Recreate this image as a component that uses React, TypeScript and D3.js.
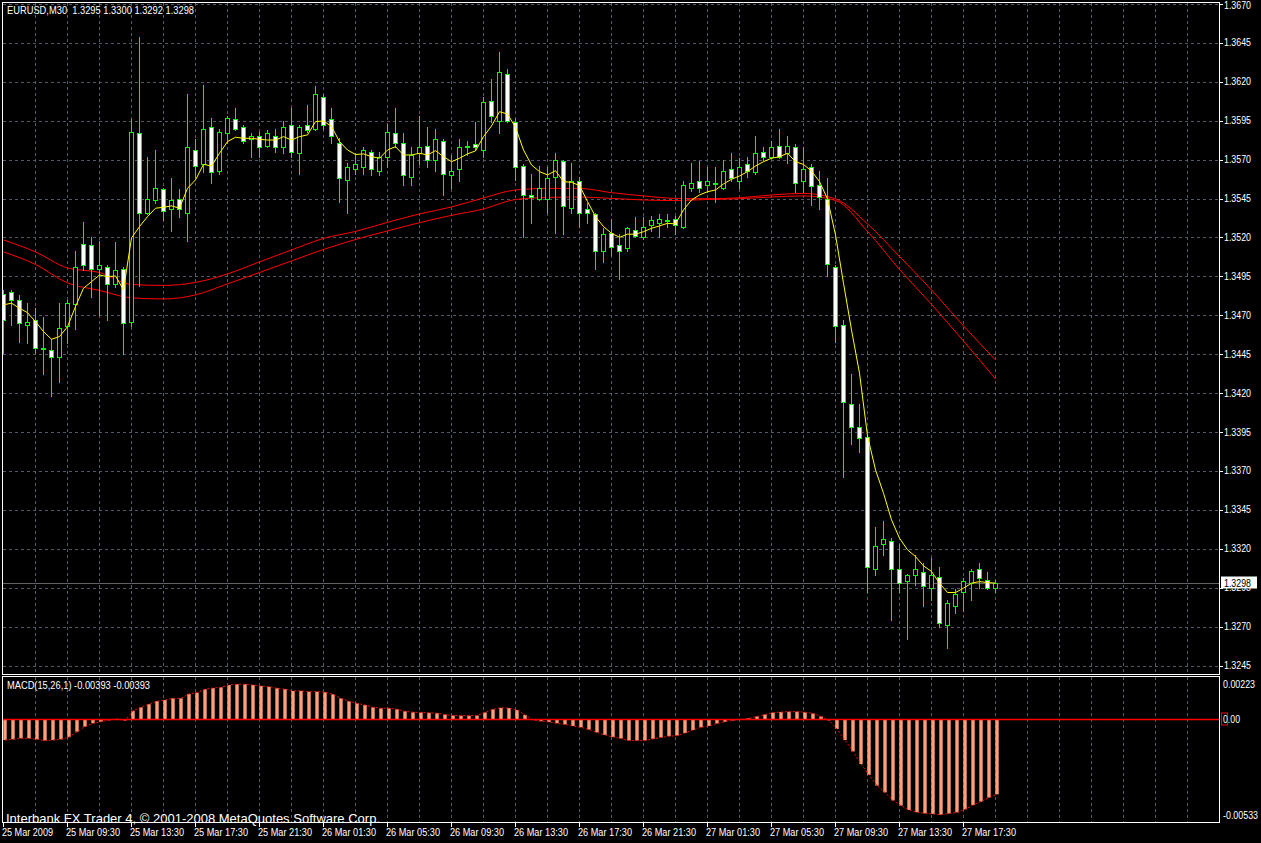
import React from 'react';
import * as d3 from 'd3';

const W = 1261;
const H = 843;

const headerText = 'EURUSD,M30  1.3295 1.3300 1.3292 1.3298';
const macdText = 'MACD(15,26,1) -0.00393 -0.00393';
const copyrightText = 'Interbank FX Trader 4, \u00A9 2001-2008 MetaQuotes Software Corp.';

const opens = [
  1.3484, 1.3485, 1.3480, 1.3464, 1.3467, 1.3449, 1.3448, 1.3443, 1.3463, 1.3477,
  1.3516, 1.3515, 1.3500, 1.3501, 1.3490, 1.3500, 1.3466, 1.3587, 1.3536, 1.3544,
  1.3551, 1.3538, 1.3545, 1.3536, 1.3576, 1.3567, 1.3591, 1.3563, 1.3587, 1.3596,
  1.3591, 1.3583, 1.3585, 1.3579, 1.3585, 1.3578, 1.3592, 1.3574, 1.3592, 1.3590,
  1.3610, 1.3596, 1.3581, 1.3557, 1.3564, 1.3565, 1.3575, 1.3563, 1.3572, 1.3587,
  1.3581, 1.3559, 1.3574, 1.3579, 1.3570, 1.3582, 1.3560, 1.3564, 1.3578, 1.3580,
  1.3576, 1.3608, 1.3595, 1.3625, 1.3594, 1.3566, 1.3547, 1.3545, 1.3545, 1.3559,
  1.3569, 1.3539, 1.3556, 1.3538, 1.3535, 1.3511, 1.3523, 1.3515, 1.3513, 1.3525,
  1.3520, 1.3528, 1.3529, 1.3531, 1.3532, 1.3527, 1.3552, 1.3556, 1.3554, 1.3555,
  1.3552, 1.3564, 1.3556, 1.3567, 1.3562, 1.3575, 1.3572, 1.3579, 1.3574, 1.3578,
  1.3556, 1.3565, 1.3554, 1.3545, 1.3501, 1.3464, 1.3413, 1.3398, 1.3392, 1.3307,
  1.3323, 1.3325, 1.3307, 1.3299, 1.3303, 1.3305, 1.3295, 1.3302, 1.3271, 1.3283,
  1.3292, 1.3298, 1.3307, 1.3300, 1.3295,
];
const highs = [
  1.3486, 1.3486, 1.3483, 1.3478, 1.3475, 1.3469, 1.3455, 1.3478, 1.3480, 1.3511,
  1.3530, 1.3520, 1.3518, 1.3502, 1.3517, 1.3501, 1.3596, 1.3649, 1.3572, 1.3576,
  1.3552, 1.3558, 1.3551, 1.3612, 1.3583, 1.3618, 1.3597, 1.3590, 1.3598, 1.3603,
  1.3592, 1.3587, 1.3588, 1.3589, 1.3590, 1.3595, 1.3603, 1.3592, 1.3605, 1.3617,
  1.3612, 1.3603, 1.3584, 1.3568, 1.3574, 1.3578, 1.3576, 1.3575, 1.3593, 1.3603,
  1.3587, 1.3578, 1.3598, 1.3591, 1.3590, 1.3583, 1.3573, 1.3583, 1.3582, 1.3594,
  1.3610, 1.3622, 1.3639, 1.3628, 1.3597, 1.3567, 1.3561, 1.3566, 1.3565, 1.3574,
  1.3570, 1.3568, 1.3559, 1.3542, 1.3536, 1.3526, 1.3532, 1.3522, 1.3527, 1.3533,
  1.3533, 1.3534, 1.3535, 1.3535, 1.3534, 1.3556, 1.3568, 1.3569, 1.3565, 1.3565,
  1.3570, 1.3574, 1.3571, 1.3572, 1.3585, 1.3578, 1.3582, 1.3590, 1.3585, 1.3580,
  1.3578, 1.3567, 1.3563, 1.3558, 1.3502, 1.3467, 1.3432, 1.3413, 1.3393, 1.3334,
  1.3338, 1.3327, 1.3323, 1.3304, 1.3316, 1.3311, 1.3314, 1.3308, 1.3287, 1.3294,
  1.3301, 1.3307, 1.3311, 1.3305, 1.3300,
];
const lows = [
  1.3446, 1.3464, 1.3453, 1.3452, 1.3446, 1.3432, 1.3418, 1.3427, 1.3452, 1.3461,
  1.3499, 1.3482, 1.3470, 1.3467, 1.3488, 1.3445, 1.3463, 1.3489, 1.3535, 1.3542,
  1.3531, 1.3524, 1.3533, 1.3518, 1.3559, 1.3562, 1.3555, 1.3561, 1.3581, 1.3589,
  1.3581, 1.3572, 1.3572, 1.3578, 1.3575, 1.3574, 1.3572, 1.3561, 1.3588, 1.3589,
  1.3590, 1.3581, 1.3543, 1.3536, 1.3561, 1.3561, 1.3560, 1.3560, 1.3565, 1.3578,
  1.3554, 1.3554, 1.3567, 1.3565, 1.3563, 1.3547, 1.3552, 1.3556, 1.3573, 1.3576,
  1.3572, 1.3594, 1.3587, 1.3594, 1.3557, 1.3520, 1.3529, 1.3544, 1.3536, 1.3523,
  1.3522, 1.3536, 1.3527, 1.3529, 1.3500, 1.3504, 1.3509, 1.3493, 1.3511, 1.3520,
  1.3519, 1.3524, 1.3520, 1.3527, 1.3522, 1.3526, 1.3550, 1.3549, 1.3549, 1.3543,
  1.3551, 1.3556, 1.3552, 1.3559, 1.3561, 1.3570, 1.3571, 1.3571, 1.3568, 1.3549,
  1.3549, 1.3541, 1.3538, 1.3495, 1.3453, 1.3366, 1.3387, 1.3382, 1.3292, 1.3303,
  1.3316, 1.3274, 1.3292, 1.3262, 1.3297, 1.3283, 1.3287, 1.3270, 1.3256, 1.3279,
  1.3280, 1.3287, 1.3295, 1.3294, 1.3292,
];
const closes = [
  1.3467, 1.3480, 1.3465, 1.3466, 1.3449, 1.3449, 1.3443, 1.3462, 1.3478, 1.3501,
  1.3502, 1.3500, 1.3502, 1.3490, 1.3499, 1.3465, 1.3588, 1.3536, 1.3545, 1.3552,
  1.3537, 1.3544, 1.3538, 1.3578, 1.3566, 1.3590, 1.3562, 1.3588, 1.3597, 1.3590,
  1.3582, 1.3585, 1.3578, 1.3587, 1.3578, 1.3591, 1.3575, 1.3591, 1.3589, 1.3612,
  1.3592, 1.3585, 1.3558, 1.3565, 1.3567, 1.3576, 1.3564, 1.3572, 1.3588, 1.3581,
  1.3560, 1.3573, 1.3578, 1.3570, 1.3583, 1.3561, 1.3563, 1.3578, 1.3579, 1.3578,
  1.3607, 1.3598, 1.3626, 1.3595, 1.3565, 1.3547, 1.3546, 1.3552, 1.3558, 1.3570,
  1.3540, 1.3556, 1.3536, 1.3536, 1.3511, 1.3522, 1.3514, 1.3511, 1.3526, 1.3521,
  1.3527, 1.3531, 1.3532, 1.3531, 1.3528, 1.3554, 1.3555, 1.3552, 1.3556, 1.3555,
  1.3563, 1.3558, 1.3565, 1.3563, 1.3574, 1.3572, 1.3578, 1.3572, 1.3579, 1.3555,
  1.3564, 1.3553, 1.3546, 1.3503, 1.3463, 1.3414, 1.3398, 1.3391, 1.3308, 1.3322,
  1.3326, 1.3307, 1.3298, 1.3303, 1.3307, 1.3296, 1.3303, 1.3272, 1.3285, 1.3291,
  1.3299, 1.3306, 1.3301, 1.3295, 1.3298,
];

// short moving average (yellow), one value per bar
const maShort = [
  1.34767, 1.34778, 1.34745, 1.34717, 1.34659, 1.34595, 1.34546, 1.34563, 1.34627, 1.34756,
  1.34874, 1.34916, 1.34959, 1.34948, 1.34953, 1.34863, 1.35197, 1.35270, 1.35334, 1.35388,
  1.35394, 1.35403, 1.35388, 1.35516, 1.35570, 1.35670, 1.35659, 1.35741, 1.35816, 1.35844,
  1.35837, 1.35837, 1.35831, 1.35826, 1.35826, 1.35848, 1.35826, 1.35848, 1.35859, 1.35944,
  1.35949, 1.35913, 1.35816, 1.35762, 1.35733, 1.35737, 1.35719, 1.35709, 1.35762, 1.35783,
  1.35730, 1.35730, 1.35741, 1.35730, 1.35758, 1.35719, 1.35687, 1.35709, 1.35737, 1.35756,
  1.35848, 1.35916, 1.36008, 1.35993, 1.35908, 1.35762, 1.35666, 1.35623, 1.35602, 1.35629,
  1.35559, 1.35554, 1.35534, 1.35431, 1.35334, 1.35270, 1.35227, 1.35201, 1.35221, 1.35221,
  1.35237, 1.35259, 1.35274, 1.35291, 1.35287, 1.35377, 1.35441, 1.35473, 1.35494, 1.35505,
  1.35544, 1.35574, 1.35595, 1.35623, 1.35659, 1.35687, 1.35709, 1.35719, 1.35741, 1.35687,
  1.35669, 1.35627, 1.35559, 1.35448, 1.35216, 1.34906, 1.34606, 1.34328, 1.33925, 1.33707,
  1.33557, 1.33386, 1.33268, 1.33193, 1.33150, 1.33090, 1.33054, 1.32979, 1.32919, 1.32919,
  1.32947, 1.32979, 1.32989, 1.32983, 1.32979,
];

// long moving averages (red), read every 4th bar
const maLongBars = [
  0, 4, 8, 12, 16, 20, 24, 28, 32, 36, 40, 44, 48, 52, 56, 60,
  64, 68, 72, 76, 80, 84, 88, 92, 96, 100, 104, 108, 112, 116, 120, 124,
];
const maLongA = [
  1.35184, 1.35107, 1.35004, 1.34975, 1.34898, 1.34892, 1.34911, 1.34966, 1.35043, 1.35120,
  1.35194, 1.35239, 1.35297, 1.35351, 1.35396, 1.35454, 1.35505, 1.35515, 1.35515, 1.35488,
  1.35467, 1.35451, 1.35449, 1.35455, 1.35473, 1.35483, 1.35448, 1.35287, 1.35078, 1.34863,
  1.34632, 1.34413,
];
const maLongB = [
  1.35107, 1.35027, 1.34908, 1.34860, 1.34812, 1.34805, 1.34831, 1.34902, 1.34975, 1.35049,
  1.35123, 1.35187, 1.35242, 1.35295, 1.35342, 1.35383, 1.35444, 1.35457, 1.35460, 1.35451,
  1.35441, 1.35437, 1.35444, 1.35449, 1.35460, 1.35467, 1.35438, 1.35239, 1.34995, 1.34770,
  1.34535, 1.34291,
];

const macdValues = [
  -0.00108, -0.00104, -0.00099, -0.00099, -0.00104, -0.00111, -0.00108, -0.00104, -0.00093, -0.00064,
  -0.00038, -0.00020, -0.00012, -0.00004, 0.00003, -0.00006, 0.00046, 0.00064, 0.00080, 0.00096,
  0.00102, 0.00111, 0.00111, 0.00134, 0.00141, 0.00159, 0.00165, 0.00169, 0.00181, 0.00185,
  0.00185, 0.00181, 0.00176, 0.00172, 0.00164, 0.00159, 0.00150, 0.00150, 0.00146, 0.00146,
  0.00143, 0.00132, 0.00111, 0.00096, 0.00085, 0.00076, 0.00064, 0.00059, 0.00059, 0.00054,
  0.00043, 0.00038, 0.00037, 0.00035, 0.00033, 0.00026, 0.00021, 0.00020, 0.00020, 0.00021,
  0.00037, 0.00053, 0.00061, 0.00060, 0.00050, 0.00024, -0.00003, -0.00009, -0.00013, -0.00020,
  -0.00026, -0.00034, -0.00041, -0.00053, -0.00068, -0.00081, -0.00092, -0.00100, -0.00111, -0.00111,
  -0.00111, -0.00102, -0.00095, -0.00088, -0.00085, -0.00071, -0.00055, -0.00041, -0.00034, -0.00021,
  -0.00012, -0.00005, 0.00001, 0.00006, 0.00016, 0.00026, 0.00036, 0.00039, 0.00041, 0.00041,
  0.00038, 0.00032, 0.00016, -0.00005, -0.00050, -0.00108, -0.00168, -0.00234, -0.00291, -0.00347,
  -0.00383, -0.00425, -0.00452, -0.00475, -0.00487, -0.00493, -0.00496, -0.00500, -0.00494, -0.00488,
  -0.00472, -0.00449, -0.00431, -0.00410, -0.00393,
];

const priceTicks = [
  1.3670, 1.3645, 1.3620, 1.3595, 1.3570, 1.3545, 1.3520, 1.3495, 1.3470,
  1.3445, 1.3420, 1.3395, 1.3370, 1.3345, 1.3320, 1.3295, 1.3270, 1.3245,
];
const macdTicks = [0.00223, 0.0, -0.00533];
const macdTickLabels = ['0.00223', '0.00', '-0.00533'];
const timeLabels = [
  '25 Mar 2009', '25 Mar 09:30', '25 Mar 13:30', '25 Mar 17:30', '25 Mar 21:30',
  '26 Mar 01:30', '26 Mar 05:30', '26 Mar 09:30', '26 Mar 13:30', '26 Mar 17:30',
  '26 Mar 21:30', '27 Mar 01:30', '27 Mar 05:30', '27 Mar 09:30', '27 Mar 13:30',
  '27 Mar 17:30',
];
const bidPrice = 1.3298;

const LEFT = 2.5;
const RIGHT = 1219.5;
const MAIN_TOP = 2.5;
const MAIN_BOTTOM = 674.5;
const MACD_TOP = 676.5;
const MACD_BOTTOM = 822.5;

const FONT = "'Liberation Sans', Arial, sans-serif";
const GRID = '#505a68';
const CANDLE = '#00ff00';

export default function App() {
  const n = closes.length;
  const x = d3.scaleLinear().domain([0, n - 1]).range([3, 3 + 8 * (n - 1)]);
  const y = d3.scaleLinear().domain([1.3245, 1.367]).range([665.5, 4]);
  const ym = d3.scaleLinear().domain([-0.00533, 0.00223]).range([821, 677]);
  const px = (v: number) => Math.round(v) + 0.5;

  const gridBars = d3.range(4, 153, 4).filter((b) => x(b) < RIGHT - 1);
  const tickBars = timeLabels.map((_, j) => j * 8);

  const shortLine = d3
    .line<number>()
    .x((_, i) => x(i) + 0.5)
    .y((d) => y(d));
  const longLine = d3
    .line<number>()
    .x((_, i) => x(maLongBars[i]) + 0.5)
    .y((d) => y(d))
    .curve(d3.curveMonotoneX);
  const macdLine = d3
    .line<number>()
    .x((_, i) => x(i) + 2)
    .y((d) => ym(d));

  const zeroY = ym(0);

  return (
    <div style={{ width: W, height: H, background: '#000' }}>
      <style>{`html,body{margin:0;padding:0;background:#000;}`}</style>
      <svg width={W} height={H} style={{ display: 'block' }} fontFamily={FONT}>
        <defs>
          <clipPath id="mainClip">
            <rect x={LEFT} y={MAIN_TOP} width={RIGHT - LEFT} height={MAIN_BOTTOM - MAIN_TOP} />
          </clipPath>
          <clipPath id="macdClip">
            <rect x={LEFT} y={MACD_TOP} width={RIGHT - LEFT} height={MACD_BOTTOM - MACD_TOP} />
          </clipPath>
        </defs>
        <rect x={0} y={0} width={W} height={H} fill="#000" />

        {/* vertical grid */}
        {gridBars.map((b) => (
          <g key={'vg' + b}>
            <line x1={px(x(b))} x2={px(x(b))} y1={MAIN_TOP} y2={MAIN_BOTTOM} stroke={GRID} strokeDasharray="3,3" shapeRendering="crispEdges" />
            <line x1={px(x(b))} x2={px(x(b))} y1={MACD_TOP} y2={MACD_BOTTOM} stroke={GRID} strokeDasharray="3,3" shapeRendering="crispEdges" />
          </g>
        ))}
        {/* horizontal grid */}
        {priceTicks.map((p) => (
          <line key={'hg' + p} x1={LEFT} x2={RIGHT} y1={px(y(p))} y2={px(y(p))} stroke={GRID} strokeDasharray="3,3" shapeRendering="crispEdges" />
        ))}

        {/* bid line */}
        <line x1={LEFT} x2={RIGHT} y1={px(y(bidPrice))} y2={px(y(bidPrice))} stroke="#5f6266" shapeRendering="crispEdges" />

        <g clipPath="url(#mainClip)">
          {/* long MAs */}
          <path d={longLine(maLongA) || ''} fill="none" stroke="#ff0000" strokeWidth={1} />
          <path d={longLine(maLongB) || ''} fill="none" stroke="#ff0000" strokeWidth={1} />

          {/* candles */}
          {closes.map((c, i) => {
            const o = opens[i];
            const cx = x(i);
            const top = Math.round(y(Math.max(o, c)));
            const bot = Math.round(y(Math.min(o, c)));
            const doji = o === c;
            return (
              <g key={'c' + i} shapeRendering="crispEdges">
                <line x1={cx + 0.5} x2={cx + 0.5} y1={Math.round(y(highs[i]))} y2={Math.round(y(lows[i])) + 1} stroke={CANDLE} />
                {doji ? (
                  <line x1={cx - 2} x2={cx + 3} y1={top + 0.5} y2={top + 0.5} stroke={CANDLE} strokeWidth={2} />
                ) : (
                  <rect x={cx - 1.5} y={top + 0.5} width={4} height={Math.max(bot - top, 1)} fill={c < o ? '#ffffff' : '#000000'} stroke={CANDLE} />
                )}
              </g>
            );
          })}

          {/* short MA */}
          <path d={shortLine(maShort) || ''} fill="none" stroke="#ffff00" strokeWidth={1} />
        </g>

        {/* MACD histogram */}
        <g clipPath="url(#macdClip)">
          {macdValues.map((v, i) => {
            const y0 = ym(0);
            const y1 = ym(v);
            return (
              <rect key={'m' + i} x={x(i) + 0.3} y={Math.min(y0, y1)} width={3.4} height={Math.max(Math.abs(y1 - y0), 0.5)} fill="#ffa07a" />
            );
          })}
          <path d={macdLine(macdValues) || ''} fill="none" stroke="#ff0000" strokeWidth={1} strokeDasharray="2,2" />
        </g>
        <line x1={LEFT} x2={RIGHT} y1={zeroY} y2={zeroY} stroke="#ff0000" strokeWidth={1.6} />

        {/* panel borders */}
        <rect x={LEFT} y={MAIN_TOP} width={RIGHT - LEFT} height={MAIN_BOTTOM - MAIN_TOP} fill="none" stroke="#fff" shapeRendering="crispEdges" />
        <rect x={LEFT} y={MACD_TOP} width={RIGHT - LEFT} height={MACD_BOTTOM - MACD_TOP} fill="none" stroke="#fff" shapeRendering="crispEdges" />

        {/* right price axis */}
        {priceTicks.map((p, k) => (
          <g key={'pl' + p}>
            <line x1={RIGHT} x2={RIGHT + 3} y1={px(y(p))} y2={px(y(p))} stroke="#fff" shapeRendering="crispEdges" />
            <text x={1224} y={y(p) + (k === 0 ? 4.5 : 3.5)} fill="#fff" fontSize={10} textLength={27} lengthAdjust="spacingAndGlyphs">
              {p.toFixed(4)}
            </text>
          </g>
        ))}
        {/* bid label */}
        <rect x={1221} y={y(bidPrice) - 6.5} width={36} height={12} fill="#fff" />
        <text x={1224} y={y(bidPrice) + 3.5} fill="#000" fontSize={10} textLength={27} lengthAdjust="spacingAndGlyphs">
          {bidPrice.toFixed(4)}
        </text>

        {/* MACD axis */}
        {macdTicks.map((v, k) => {
          const yy = k === 0 ? ym(v) + 7 : k === 2 ? ym(v) - 6 : ym(v);
          const w = macdTickLabels[k].length === 4 ? 17 : macdTickLabels[k].length === 7 ? 32 : 35;
          return (
            <g key={'ml' + k}>
              {k === 1 && <rect x={1221.5} y={yy - 6.5} width={6} height={12} fill="#000" stroke="#ff0000" />}
              <text x={1223} y={yy + 3.5} fill="#fff" fontSize={10} textLength={w} lengthAdjust="spacingAndGlyphs">
                {macdTickLabels[k]}
              </text>
            </g>
          );
        })}

        {/* time axis */}
        {tickBars.map((b, j) => (
          <g key={'t' + b}>
            <line x1={px(x(b))} x2={px(x(b))} y1={MACD_BOTTOM} y2={MACD_BOTTOM + 4} stroke="#fff" shapeRendering="crispEdges" />
            <text x={x(b) - 1} y={836} fill="#fff" fontSize={10.5} textLength={j === 0 ? 51 : 54} lengthAdjust="spacingAndGlyphs">
              {timeLabels[j]}
            </text>
          </g>
        ))}

        {/* texts */}
        <text x={7} y={14} fill="#fff" fontSize={11} textLength={187} lengthAdjust="spacingAndGlyphs" xmlSpace="preserve">
          {headerText}
        </text>
        <text x={7} y={689} fill="#fff" fontSize={10.5} textLength={143} lengthAdjust="spacingAndGlyphs">
          {macdText}
        </text>
        <text x={6} y={823} fill="#fff" fontSize={13} textLength={374} lengthAdjust="spacingAndGlyphs">
          {copyrightText}
        </text>
      </svg>
    </div>
  );
}
